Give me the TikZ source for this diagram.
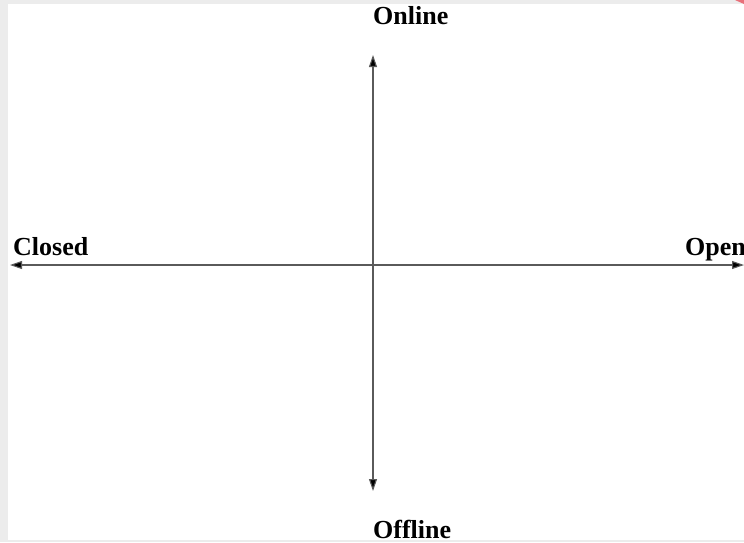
\documentclass[tikz,border=0pt]{standalone}
\usepackage{fontspec}
\setmainfont{Liberation Serif}
\usetikzlibrary{arrows.meta}
\definecolor{framegray}{HTML}{ECECEC}
\definecolor{axisgray}{HTML}{5A5A5A}
\definecolor{cornerred}{HTML}{E8707A}
\tikzset{
  axislabel/.style={inner sep=0pt, anchor=base west, font=\fontsize{26}{30}\selectfont\bfseries, text=black},
  axisline/.style={draw=axisgray, line width=1.1pt, -{Stealth[length=12pt,width=8pt,inset=0pt,fill=black]}}
}
\begin{document}
\begin{tikzpicture}[x=1pt,y=-1pt]
\useasboundingbox (0,0) rectangle (744,542);
\fill[framegray] (0,0) rectangle (744,542);
\fill[white] (8,4) rectangle (744,540);
\fill[cornerred] (735,0) -- (744,0) -- (744,4) -- cycle;
\coordinate (center) at (373,265);
\coordinate (left) at (10,265);
\coordinate (right) at (744,265);
\coordinate (top) at (373,55);
\coordinate (bottom) at (373,491);
\draw[axisline] (center) -- (left);
\draw[axisline] (center) -- (right);
\draw[axisline] (center) -- (top);
\draw[axisline] (center) -- (bottom);
\node[axislabel] (online) at (373,24) {Online};
\node[axislabel] (offline) at (373,538) {Offline};
\node[axislabel] (closed) at (13,255) {Closed};
\node[axislabel] (open) at (685,255) {Open};
\end{tikzpicture}
\end{document}
